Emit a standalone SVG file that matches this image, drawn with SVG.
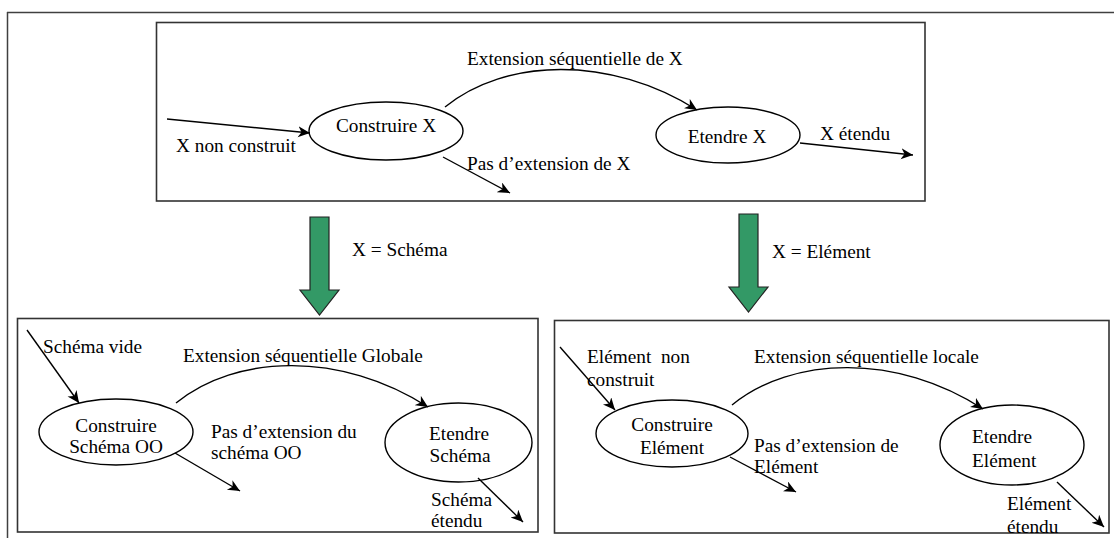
<svg xmlns="http://www.w3.org/2000/svg" width="1114" height="538" viewBox="0 0 1114 538">
<style>
text{font-family:"Liberation Serif","Times New Roman",serif;font-size:19.3px;fill:#000;white-space:pre}
.box{fill:#fff;stroke:#333;stroke-width:1.6}
.node{fill:#fff;stroke:#000;stroke-width:1.4}
.edge{fill:none;stroke:#000;stroke-width:1.4;marker-end:url(#ah)}
.big{fill:#339966;stroke:#222;stroke-width:1.2}
.mid{text-anchor:middle}
</style>
<defs>
<marker id="ah" markerUnits="userSpaceOnUse" markerWidth="14" markerHeight="12" refX="12" refY="5.5" orient="auto">
<path d="M0,0 L12,5.5 L0,11 L3.5,5.5 z" fill="#000"/>
</marker>
</defs>
<g id="frame" fill="none" stroke="#404040" stroke-width="1.5">
<line x1="7" y1="12.5" x2="1114" y2="12.5"/>
<line x1="7.5" y1="12" x2="7.5" y2="538"/>
</g>
<g id="top-box"><rect class="box" x="156.5" y="22.5" width="768.5" height="178.5"/></g>
<g id="bl-box"><rect class="box" x="17.5" y="318.5" width="520.5" height="213.5"/></g>
<g id="br-box"><rect class="box" x="554.5" y="320.5" width="554.5" height="212.5"/></g>
<g id="construire-x"><ellipse class="node" cx="386" cy="131" rx="77" ry="29"/><text class="mid" x="386" y="132">Construire X</text></g>
<g id="etendre-x"><ellipse class="node" cx="728" cy="135" rx="72" ry="28"/><text class="mid" x="727" y="143">Etendre X</text></g>
<g id="construire-schema"><ellipse class="node" cx="116" cy="432" rx="77" ry="33"/><text class="mid" x="116" y="432">Construire</text><text class="mid" x="116" y="453">Schéma OO</text></g>
<g id="etendre-schema"><ellipse class="node" cx="458.5" cy="442.5" rx="73.5" ry="39.5"/><text class="mid" x="459" y="440">Etendre</text><text class="mid" x="460" y="462">Schéma</text></g>
<g id="construire-element"><ellipse class="node" cx="672" cy="433.5" rx="76" ry="33.5"/><text class="mid" x="672" y="431">Construire</text><text class="mid" x="672" y="454">Elément</text></g>
<g id="etendre-element"><ellipse class="node" cx="1012" cy="445" rx="72" ry="40"/><text x="972" y="443">Etendre</text><text x="972" y="467">Elément</text></g>
<g id="green-left"><polygon class="big" points="310,217 329,217 329,290 339,290 319.5,315 300,290 310,290"/></g>
<g id="green-right"><polygon class="big" points="739,214 758,214 758,287 768,287 748.5,312 729,287 739,287"/></g>
<g id="connectors">
<line class="edge" x1="167" y1="119" x2="310" y2="133"/>
<path class="edge" d="M445,107 C505,58 610,55 697,110"/>
<line class="edge" x1="443" y1="157" x2="510" y2="193"/>
<line class="edge" x1="800" y1="143" x2="913" y2="155"/>
<line class="edge" x1="27" y1="330" x2="79" y2="403"/>
<path class="edge" d="M176,403 C236,354 341,351 428,407"/>
<line class="edge" x1="175" y1="453" x2="240" y2="491"/>
<line class="edge" x1="478" y1="478" x2="523" y2="522"/>
<line class="edge" x1="560" y1="347" x2="615" y2="410"/>
<path class="edge" d="M732,405 C792,356 897,353 983,409"/>
<line class="edge" x1="730" y1="457" x2="796" y2="492"/>
<line class="edge" x1="1057" y1="482" x2="1104" y2="527"/>
</g>
<g id="labels">
<text x="467" y="65">Extension séquentielle de X</text>
<text x="176" y="152">X non construit</text>
<text x="467" y="170">Pas d’extension de X</text>
<text x="820" y="140">X étendu</text>
<text x="352" y="256">X = Schéma</text>
<text x="772" y="258">X = Elément</text>
<text x="43" y="353">Schéma vide</text>
<text x="183" y="362">Extension séquentielle Globale</text>
<text x="211" y="438">Pas d’extension du</text>
<text x="211" y="459">schéma OO</text>
<text x="431" y="506">Schéma</text>
<text x="431" y="527">étendu</text>
<text x="587" y="363">Elément  non</text>
<text x="587" y="386">construit</text>
<text x="754" y="363">Extension séquentielle locale</text>
<text x="754" y="452">Pas d’extension de</text>
<text x="754" y="473">Elément</text>
<text x="1007" y="510">Elément</text>
<text x="1007" y="533">étendu</text>
</g>
</svg>
